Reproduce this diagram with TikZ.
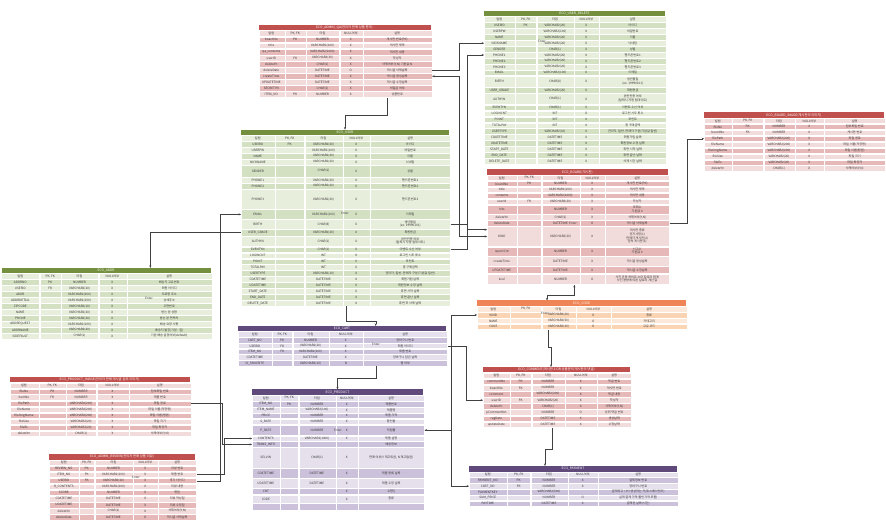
\documentclass[tikz,border=0pt]{standalone}
\usepackage{fontspec}
\setmainfont{Noto Sans CJK KR}
\usepackage{xcolor}
\usepackage{tikz}
\usetikzlibrary{arrows.meta, positioning, matrix, calc}

\definecolor{grnT}{HTML}{74903F}
\definecolor{grnA}{HTML}{E8EEDC}
\definecolor{grnB}{HTML}{D4E0C2}
\definecolor{redT}{HTML}{C0504D}
\definecolor{redA}{HTML}{F2DCDB}
\definecolor{redB}{HTML}{E6B9B8}
\definecolor{orgT}{HTML}{EF8556}
\definecolor{orgA}{HTML}{FDE9D9}
\definecolor{orgB}{HTML}{FBD4B4}
\definecolor{prpT}{HTML}{604A7B}
\definecolor{prpA}{HTML}{E5E0EC}
\definecolor{prpB}{HTML}{CCC1DA}

%% stacked cell text
\newcommand{\twoln}[2]{\begin{tabular}{@{}c@{}}#1\\#2\end{tabular}}
\newcommand{\fourln}[4]{\begin{tabular}{@{}c@{}}#1\\#2\\#3\\#4\end{tabular}}

\begin{document}
\begin{tikzpicture}[
  x=1pt, y=-1pt,
  tbl/.style={matrix of nodes, nodes in empty cells, anchor=north west,
              inner sep=0pt, outer sep=0pt, column sep=0pt, row sep=0pt,
              nodes={draw=white, line width=0.35pt, inner sep=0pt, outer sep=0pt,
                     anchor=center, minimum height=5.6pt, align=center,
                     text=black!80, font=\fontsize{3.1}{3.5}\selectfont}},
  cw/.style n args={5}{column 1/.style={nodes={minimum width=#1}},
                       column 2/.style={nodes={minimum width=#2}},
                       column 3/.style={nodes={minimum width=#3}},
                       column 4/.style={nodes={minimum width=#4}},
                       column 5/.style={nodes={minimum width=#5}}},
  grn/.style={every odd row/.style={nodes={fill=grnA}},
              every even row/.style={nodes={fill=grnB}}},
  rd/.style={every odd row/.style={nodes={fill=redA}},
             every even row/.style={nodes={fill=redB}}},
  org/.style={every odd row/.style={nodes={fill=orgA}},
              every even row/.style={nodes={fill=orgB}}},
  prp/.style={every odd row/.style={nodes={fill=prpA}},
              every even row/.style={nodes={fill=prpB}}},
  ttl/.style={anchor=south west, inner sep=0pt, outer sep=0pt, minimum height=5.5pt,
              text=white, font=\fontsize{3.3}{3.6}\selectfont},
  conn/.style={-{Stealth[length=2.6pt, width=2pt]}, line width=0.35pt, black!75},
  conn2/.style={{Stealth[length=2.6pt, width=2pt]}-{Stealth[length=2.6pt, width=2pt]},
                line width=0.35pt, black!75},
  entr/.style={font=\fontsize{3.1}{3.5}\selectfont, text=black!75, inner sep=0pt},
]
\fill[white] (0,0) rectangle (886,526);
\useasboundingbox (0,0) rectangle (886,526);

%% ECO_ADMIN_QA
\matrix[tbl, rd, cw={26pt}{21pt}{33pt}{23pt}{69pt},
        nodes={minimum height=5.75pt}] (qa) at (258.5,30.5) {
컬럼 & PK, FK & 타입 & NULL여부 & 설명 \\
boardNo & PK & NUMBER & X & 게시판 번호(PK) \\
title & & VARCHAR2(100) & X & 게시판 제목 \\
qa\_contents & & VARCHAR2(1000) & X & 게시판 내용 \\
userID & FK & VARCHAR2(30) & X & 작성자 \\
deleteYn & & CHAR(1) & X & 삭제여부(Y,N) 기본값 N \\
deleteDate & & DATETIME & O & 게시글 삭제날짜 \\
createTime & & DATETIME & X & 게시글 생성날짜 \\
UPDATETIME & & DATETIME & X & 게시글 수정날짜 \\
SECRETYN & & CHAR(1) & X & 비밀글 여부 \\
ITEM\_NO & PK & NUMBER & X & 상품번호 \\
};
\node[ttl, fill=redT, minimum width=172pt] (qaT) at (qa.north west)
  {ECO\_ADMIN\_QA(관리자 판매 상품 문의)};

%% ECO_USER_DELETE
\matrix[tbl, grn, cw={31pt}{21pt}{37pt}{25pt}{67pt},
        nodes={minimum height=5.58pt},
        row 11/.style={nodes={minimum height=11.16pt}},
        row 13/.style={nodes={minimum height=11.16pt}}] (ud) at (484,16.5) {
컬럼 & PK, FK & 타입 & NULL여부 & 설명 \\
USERID & PK & VARCHAR2(20) & X & 아이디 \\
USERPW & & VARCHAR2(100) & X & 비밀번호 \\
NAME & & VARCHAR2(20) & X & 이름 \\
NICKNAME & & VARCHAR2(20) & X & 닉네임 \\
GENDER & & CHAR(1) & X & 성별 \\
PHONE1 & & VARCHAR2(20) & X & 핸드폰번호1 \\
PHONE2 & & VARCHAR2(20) & X & 핸드폰번호2 \\
PHONE3 & & VARCHAR2(20) & X & 핸드폰번호3 \\
EMAIL & & VARCHAR2(100) & X & 이메일 \\
BIRTH & & CHAR(8) & X & \twoln{생년월일}{(ex: 19990101)} \\
USER\_GRADE & & VARCHAR2(20) & X & 회원등급 \\
AUTHYN & & CHAR(1) & X & \twoln{본인인증 여부}{(탈퇴시 자동 업데이트)} \\
EVENTYN & & CHAR(1) & X & 이벤트 수신 여부 \\
LOGINCNT & & INT & O & 로그인 시도 횟수 \\
POINT & & INT & X & 포인트 \\
TOTALPAY & & INT & X & 총 구매금액 \\
USERTYPE & & VARCHAR2(10) & X & 관리자, 일반, 판매자 구분(기본값 일반) \\
CDATETIME & & DATETIME & X & 회원가입 날짜 \\
UDATETIME & & DATETIME & X & 회원정보 수정 날짜 \\
START\_DATE & & DATETIME & X & 휴면 시작 날짜 \\
END\_DATE & & DATETIME & X & 휴면 끝난 날짜 \\
DELETE\_DATE & & DATETIME & X & 삭제 시간 날짜 \\
};
\node[ttl, fill=grnT, minimum width=181pt] (udT) at (ud.north west)
  {ECO\_USER\_DELETE};

%% ECO_USER
\matrix[tbl, grn, cw={34pt}{29pt}{38pt}{27pt}{80pt},
        row 6/.style={nodes={minimum height=11.8pt}},
        row 9/.style={nodes={minimum height=20pt}},
        row 10/.style={nodes={minimum height=9.7pt}},
        row 11/.style={nodes={minimum height=9.6pt}},
        row 12/.style={nodes={minimum height=6.2pt}},
        row 13/.style={nodes={minimum height=10.4pt}}] (user) at (241,135.2) {
컬럼 & PK, FK & 타입 & NULL여부 & 설명 \\
USERID & PK & VARCHAR2(20) & X & 아이디 \\
USERPW & & VARCHAR2(100) & X & 비밀번호 \\
NAME & & VARCHAR2(20) & X & 이름 \\
NICKNAME & & VARCHAR2(20) & X & 닉네임 \\
GENDER & & CHAR(1) & X & 성별 \\
PHONE1 & & VARCHAR2(20) & X & 핸드폰번호1 \\
PHONE2 & & VARCHAR2(20) & X & 핸드폰번호2 \\
PHONE3 & & VARCHAR2(20) & X & 핸드폰번호3 \\
EMAIL & & VARCHAR2(100) & X & 이메일 \\
BIRTH & & CHAR(8) & X & \twoln{생년월일}{(ex: 19990101)} \\
USER\_GRADE & & VARCHAR2(20) & X & 회원등급 \\
AUTHYN & & CHAR(1) & X & \twoln{본인인증 여부}{(탈퇴시 자동 업데이트)} \\
EVENTYN & & CHAR(1) & X & 이벤트 수신 여부 \\
LOGINCNT & & INT & O & 로그인 시도 횟수 \\
POINT & & INT & X & 포인트 \\
TOTALPAY & & INT & X & 총 구매금액 \\
USERTYPE & & VARCHAR2(10) & X & 관리자, 일반, 판매자 구분(기본값 일반) \\
CDATETIME & & DATETIME & X & 회원가입 날짜 \\
UDATETIME & & DATETIME & X & 회원정보 수정 날짜 \\
START\_DATE & & DATETIME & X & 휴면 시작 날짜 \\
END\_DATE & & DATETIME & X & 휴면 끝난 날짜 \\
DELETE\_DATE & & DATETIME & X & 휴면 후 삭제 날짜 \\
};
\node[ttl, fill=grnT, minimum width=208pt] (userT) at (user.north west)
  {ECO\_USER};

%% ECO_ADDR
\matrix[tbl, grn, cw={38pt}{21pt}{37pt}{28pt}{85pt}] (addr) at (1.5,273.5) {
컬럼 & PK, FK & 타입 & NULL여부 & 설명 \\
ADDRNO & PK & NUMBER & X & 배송지 고유번호 \\
USERID & FK & VARCHAR2(20) & X & 회원 아이디 \\
ADDR & & VARCHAR2(200) & X & 도로명 주소 \\
ADDRDETAIL & & VARCHAR2(100) & X & 상세주소 \\
ZIPCODE & & VARCHAR2(10) & X & 우편번호 \\
NAME & & VARCHAR2(20) & X & 받는 분 성함 \\
PHONE & & VARCHAR2(20) & X & 받는 분 연락처 \\
ADDREQUEST & & VARCHAR2(100) & X & 배송 요청 사항 \\
ADDRNAME & & VARCHAR2(20) & X & 배송지 별칭(기본 : 집) \\
ISDEFAULT & & CHAR(1) & X & 기본 배송 설정여부(default) \\
};
\node[ttl, fill=grnT, minimum width=209pt] (addrT) at (addr.north west)
  {ECO\_ADDR};

%% ECO_BOARD_IMAGE
\matrix[tbl, rd, cw={28pt}{31pt}{31pt}{29pt}{61pt}] (bimg) at (704,117.9) {
컬럼 & PK, FK & 타입 & NULL여부 & 설명 \\
fileNo & PK & NUMBER & X & 첨부파일 번호 \\
boardNo & FK & NUMBER & X & 게시판 번호 \\
filePath & & VARCHAR2(200) & X & 파일 경로 \\
fileName & & VARCHAR2(200) & X & 파일 이름(저장명) \\
fileOrigName & & VARCHAR2(200) & X & 파일 이름(원본) \\
fileSize & & VARCHAR2(20) & X & 파일 크기 \\
fileEx & & VARCHAR2(20) & X & 파일 확장자 \\
deleteYn & & CHAR(1) & X & 삭제여부(Y,N) \\
};
\node[ttl, fill=redT, minimum width=180pt] (bimgT) at (bimg.north west)
  {ECO\_BOARD\_IMAGE(게시판의 이미지)};

%% ECO_BOARD
\matrix[tbl, rd, cw={30pt}{24pt}{38pt}{25pt}{64pt},
        row 6/.style={nodes={minimum height=9.4pt}},
        row 9/.style={nodes={minimum height=20pt}},
        row 10/.style={nodes={minimum height=9pt}},
        row 11/.style={nodes={minimum height=10pt}},
        row 12/.style={nodes={minimum height=7pt}},
        row 13/.style={nodes={minimum height=10.7pt}}] (board) at (487,174.9) {
컬럼 & PK, FK & 타입 & NULL여부 & 설명 \\
boardNo & PK & NUMBER & X & 게시판 번호(PK) \\
title & & VARCHAR2(100) & X & 게시판 제목 \\
contents & & VARCHAR2(1000) & X & 게시판 내용 \\
userId & FK & VARCHAR2(20) & X & 작성자 \\
hits & & NUMBER & X & \twoln{조회수}{기본값 0} \\
deleteYn & & CHAR(1) & X & 삭제여부(Y,N) \\
deleteDate & & DATETIME & O & 게시글 삭제날짜 \\
KIND & & VARCHAR2(20) & X & \fourln{게시판 종류}{공지사항(1)}{판매자 게시판(2)}{문의 게시판(3)} \\
reportCnt & & NUMBER & X & \twoln{신고수}{기본값 0} \\
createTime & & DATETIME & X & 게시글 생성날짜 \\
UPDATETIME & & DATETIME & X & 게시글 수정날짜 \\
kcal & & NUMBER & O & \twoln{사진 운동 하비트 소모 칼로리 합계}{사진 용량에 따른 칼로리 계산 값} \\
};
\node[ttl, fill=redT, minimum width=181pt] (boardT) at (board.north west)
  {ECO\_BOARD(게시판)};

%% ECO_CODE
\matrix[tbl, org, cw={33pt}{31pt}{34pt}{35pt}{76pt}] (code) at (477,306) {
컬럼 & PK, FK & 타입 & NULL여부 & 설명 \\
KIND & & VARCHAR2(20) & O & 종류 \\
NAME & & VARCHAR2(50) & O & 카테고리 \\
CODE & & VARCHAR2(20) & O & 고유 코드 \\
};
\node[ttl, fill=orgT, minimum width=209pt] (codeT) at (code.north west)
  {ECO\_CODE};

%% ECO_COMMENT
\matrix[tbl, rd, cw={27pt}{21pt}{33pt}{32pt}{34pt},
        nodes={minimum height=5.8pt}] (cmt) at (483,372.5) {
컬럼 & PK, FK & 타입 & NULL여부 & 설명 \\
commentNo & PK & NUMBER & X & 댓글 번호 \\
boardNo & FK & NUMBER & X & 게시판 번호 \\
comment & & VARCHAR2(200) & X & 댓글 내용 \\
userID & FK & VARCHAR2(20) & X & 작성자 \\
deleteYn & & CHAR(1) & X & 삭제여부(Y,N) \\
pCommentNo & & NUMBER & O & 상위 댓글 번호 \\
regDate & & DATETIME & X & 생성날짜 \\
updateDate & & DATETIME & X & 수정날짜 \\
};
\node[ttl, fill=redT, minimum width=147pt] (cmtT) at (cmt.north west)
  {ECO\_COMMENT(게시판 1:OR 상품문의 게시판의 댓글)};

%% ECO_CART
\matrix[tbl, prp, cw={34pt}{20pt}{36pt}{34pt}{84pt},
        nodes={minimum height=5.4pt}] (cart) at (238,331.5) {
컬럼 & PK, FK & 타입 & NULL여부 & 설명 \\
CART\_NO & PK & NUMBER & X & 장바구니 번호 \\
USERID & FK & VARCHAR2(20) & X & 회원 아이디 \\
ITEM\_NO & FK & VARCHAR2(100) & X & 제품 번호 \\
CDATETIME & & DATETIME & X & 장바구니 담은 날짜 \\
IS\_FAVORITE & & VARCHAR2(10) & N & 찜 여부 \\
};
\node[ttl, fill=prpT, minimum width=208pt] (cartT) at (cart.north west)
  {ECO\_CART};

%% ECO_PRODUCT_IMAGE
\matrix[tbl, rd, cw={29pt}{27pt}{30pt}{32pt}{62pt},
        nodes={minimum height=5.65pt}] (pimg) at (9.6,382.5) {
컬럼 & PK, FK & 타입 & NULL여부 & 설명 \\
fileNo & PK & NUMBER & X & 첨부파일 번호 \\
itemNo & FK & NUMBER & X & 제품 번호 \\
filePath & & VARCHAR2(200) & X & 파일 경로 \\
fileName & & VARCHAR2(200) & X & 파일 이름(저장명) \\
fileOrigName & & VARCHAR2(200) & X & 파일 이름(원본) \\
fileSize & & VARCHAR2(20) & X & 파일 크기 \\
fileEx & & VARCHAR2(20) & X & 파일 확장자 \\
deleteYn & & CHAR(1) & X & 삭제여부(Y,N) \\
};
\node[ttl, fill=redT, minimum width=180pt] (pimgT) at (pimg.north west)
  {ECO\_PRODUCT\_IMAGE(관리자 판매 게시글 첨부 이미지)};

%% ECO_PRODUCT
\matrix[tbl, prp, cw={28pt}{18pt}{37pt}{22pt}{66pt},
        row 6/.style={nodes={minimum height=10.4pt}},
        row 9/.style={nodes={minimum height=20.4pt}},
        row 10/.style={nodes={minimum height=9.5pt}},
        row 11/.style={nodes={minimum height=10pt}},
        row 12/.style={nodes={minimum height=6pt}},
        row 13/.style={nodes={minimum height=8pt}},
        row 14/.style={nodes={minimum height=7pt}}] (prod) at (252,395) {
컬럼 & PK, FK & 타입 & NULL여부 & 설명 \\
ITEM\_NO & PK & NUMBER & X & 제품번호 \\
ITEM\_NAME & & VARCHAR2(100) & X & 제품명 \\
PRICE & & NUMBER & X & 제품 가격 \\
S\_RATE & & NUMBER & X & 할인율 \\
P\_RATE & & NUMBER & X & 적립률 \\
CONTENTS & & VARCHAR2(1000) & X & 제품 설명 \\
TRANS\_INFO & & & & 배송정보 \\
SELLYN & & CHAR(1) & X & 판매 여부(Y 재고있음, N 재고없음) \\
CDATETIME & & DATETIME & X & 제품 등록 날짜 \\
UDATETIME & & DATETIME & X & 제품 수정 날짜 \\
CNT & & & X & 수량() \\
CODE & & & X & 종류 \\
 & & & & \\
};
\node[ttl, fill=prpT, minimum width=171pt] (prodT) at (prod.north west)
  {ECO\_PRODUCT};

%% ECO_ADMIN_REVIEW
\matrix[tbl, rd, cw={30pt}{15pt}{38pt}{25pt}{38pt},
        nodes={minimum height=5.7pt}] (rev) at (49,459.5) {
컬럼 & PK, FK & 타입 & NULL여부 & 설명 \\
REVIEW\_NO & PK & NUMBER & X & 리뷰 번호 \\
ITEM\_NO & FK & VARCHAR2(100) & X & 제품 번호 \\
USERID & FK & VARCHAR2(20) & X & 후기 아이디 \\
R\_CONTENTS & & VARCHAR2(200) & X & 리뷰 내용 \\
SCORE & & NUMBER & X & 평점 \\
CDATETIME & & DATETIME & X & 리뷰 작성일 \\
UDATETIME & & DATETIME & X & 리뷰 수정일 \\
deleteYn & & CHAR(1) & X & 삭제여부(Y,N) \\
deleteDate & & DATETIME & O & 게시글 삭제날짜 \\
};
\node[ttl, fill=redT, minimum width=146pt] (revT) at (rev.north west)
  {ECO\_ADMIN\_REVIEW(관리자 판매 상품 리뷰)};

%% ECO_PAYMENT
\matrix[tbl, prp, cw={38pt}{23pt}{37pt}{30pt}{80pt},
        nodes={minimum height=5.5pt}] (pay) at (469,471.5) {
컬럼 & PK, FK & 타입 & NULL여부 & 설명 \\
PAYMENT\_NO & PK & NUMBER & X & 결제정보 번호 \\
CART\_NO & FK & NUMBER & X & 장바구니 번호 \\
PAYMENTKEY & & VARCHAR2(500) & & 결제되고 나서 생성되는 키(토스페이먼츠) \\
SUM\_PRICE & & NUMBER & O & 실제 결제 가격(할인가격 포함) \\
PAYTIME & & DATETIME & X & 결제된 날짜(시간) \\
};
\node[ttl, fill=prpT, minimum width=208pt] (payT) at (pay.north west)
  {ECO\_PAYMENT};

%% Enter marks
\node[entr] (e1) at (542,41) {Enter};
\node[entr] (e2) at (345,213) {Enter};
\node[entr] (e3) at (573,223) {Enter};
\node[entr] (e4) at (149,298) {Enter};
\node[entr] (e5) at (545,313) {Enter};
\node[entr] (e6) at (376,344.5) {Enter};
\node[entr] (e7) at (338,430.5) {Enter};
\node[entr] (e8) at (136,477.5) {Enter};

%% Connectors
\draw[conn] ($(qa.south)+(41.5,0)$) -- ++(0,17.5) -| (userT.north);
\draw[conn] (qa-7-5.east) -- ++(27,0) |- (ud-5-1.west);
\draw[conn2] (qa-8-5.east) -- ++(27,0) |- (board-9-1.west);
\draw[conn] (user-11-5.east) -- ++(17,0) |- ($(board-9-1.north west)+(0,3.2)$);
\draw[conn] (user-14-5.east) -- ++(17,0) |- (ud-7-1.west);
\draw[conn] (board-8-5.east) -- ++(17.3,0) |- (bimg-4-1.west);
\draw[conn2] ($(board.south)+(-4,0)$) -- ++(0,10) -| ($(codeT.north)+(-34.5,0)$);
\draw[conn] ($(code.south)+(-34.5,0)$) -- ++(0,17) -| ($(cmtT.north)+(-5.5,0)$);
\draw[conn] ($(cmt.south)+(-5.5,0)$) -- ++(0,21) -| ($(payT.north)+(-28,0)$);
\draw[conn2] (prod-6-5.east) -- ++(27,0) |- (code-2-1.west);
\draw[conn] (prod-6-5.east) -- ++(27,0) |- (pay-3-1.west);
\draw[conn] (cart-3-5.east) -- ++(18.4,0) |- (cmt-5-1.west);
\draw[conn] (user-12-1.west) -| ($(addrT.north west)+(148.8,0)$);
\draw[conn] (rev-4-5.east) -- ++(23.5,0) |- (user-10-1.west);
\draw[conn] (rev-3-5.east) -- ++(28,0) |- (prod-7-1.west);
\draw[conn] (pimg-4-5.east) -- ++(30.5,0) |- (prod-8-1.west);
\draw[conn] (user.south) -- ++(0,15) -| ($(cartT.north)+(33.7,0)$);
\draw[conn] ($(cart.south)+(33.7,0)$) -- ++(0,12) -| (prodT.north);

\end{tikzpicture}
\end{document}
